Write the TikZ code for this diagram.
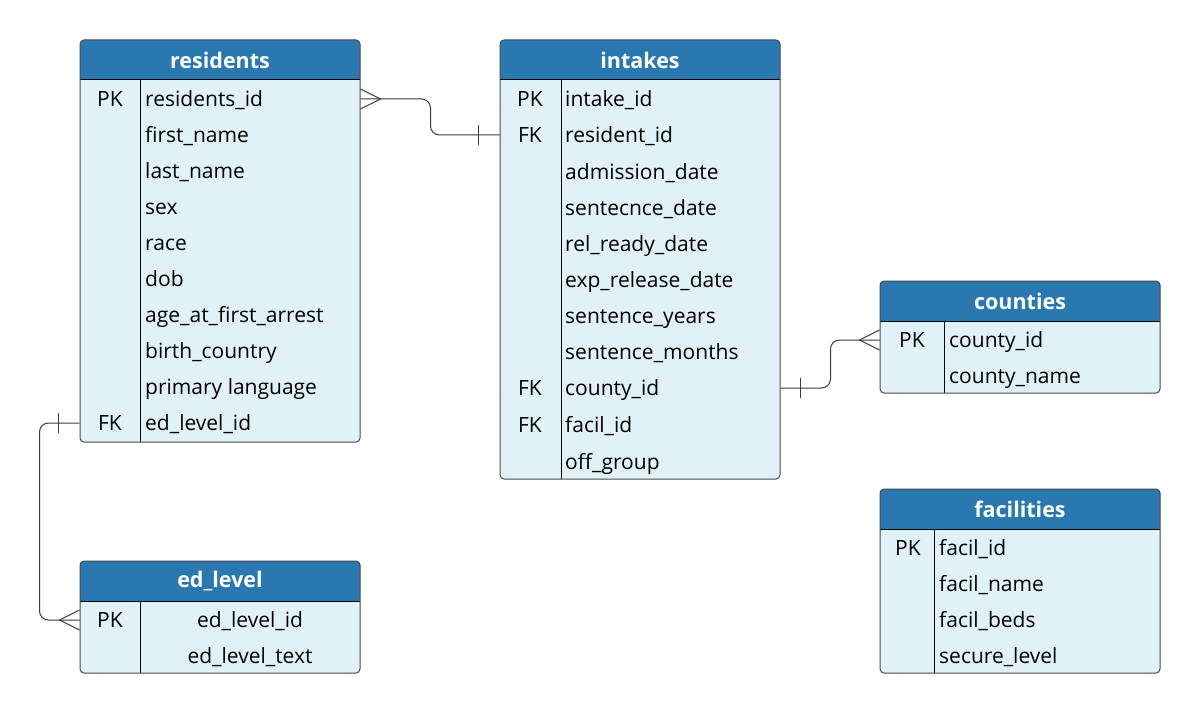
\documentclass[tikz,border=0pt]{standalone}
\usepackage{fontspec}
\setmainfont{Open Sans}
\usetikzlibrary{calc,fit}
\definecolor{headblue}{HTML}{2A78B0}
\definecolor{bodyfill}{HTML}{E0F2F7}
\definecolor{bordergray}{HTML}{4A4A4A}
\definecolor{conngray}{HTML}{3A3A3A}
\tikzset{
  tblframe/.style={draw=bordergray, line width=1pt, rounded corners=4pt, inner sep=0pt},
  sepline/.style={draw=black, line width=1pt},
  titletext/.style={text=white, font=\fontsize{21.5}{25}\selectfont\bfseries, inner sep=0pt},
  keytext/.style={text=black, font=\fontsize{21}{24}\selectfont, inner sep=0pt, text height=18pt, text depth=3pt},
  fieldtext/.style={keytext, anchor=west},
  conn/.style={draw=conngray, line width=1pt, rounded corners=9pt},
  crowmark/.style={draw=conngray, line width=1pt},
}
% name, x1, y1, x2, y2, divider x, title
\newcommand{\ertbl}[7]{%
  \fill[bodyfill, rounded corners=4pt] (#2,#3) rectangle (#4,#5);
  \fill[headblue, rounded corners=4pt] (#2,#3) rectangle (#4,{#3+40});
  \fill[headblue] (#2,{#3+30}) rectangle (#4,{#3+40});
  \draw[sepline] (#2,{#3+40}) -- (#4,{#3+40});
  \draw[sepline] (#6,{#3+40}) -- (#6,#5);
  \node[tblframe, fit={(#2,#3) (#4,#5)}] (#1) {};
  \node[titletext] (#1-title) at ({(#2+#4)/2},{#3+20}) {#7};
}
\begin{document}
\begin{tikzpicture}[x=1pt,y=-1pt]
\useasboundingbox[fill=white] (0,0) rectangle (1201,714);

% residents
\ertbl{residents}{80}{40}{360}{442}{140}{residents}
\node[keytext] (resk1) at (110,99) {PK};
\node[fieldtext] (resf1) at (145,99) {residents\_id};
\node[fieldtext] (resf2) at (145,135) {first\_name};
\node[fieldtext] (resf3) at (145,171) {last\_name};
\node[fieldtext] (resf4) at (145,207) {sex};
\node[fieldtext] (resf5) at (145,243) {race};
\node[fieldtext] (resf6) at (145,279) {dob};
\node[fieldtext] (resf7) at (145,315) {age\_at\_first\_arrest};
\node[fieldtext] (resf8) at (145,351) {birth\_country};
\node[fieldtext] (resf9) at (145,387) {primary language};
\node[keytext] (resk10) at (110,423) {FK};
\node[fieldtext] (resf10) at (145,423) {ed\_level\_id};

% intakes
\ertbl{intakes}{500}{40}{780}{479}{561}{intakes}
\node[keytext] (intk1) at (530,99) {PK};
\node[fieldtext] (intf1) at (565,99) {intake\_id};
\node[keytext] (intk2) at (530,135) {FK};
\node[fieldtext] (intf2) at (565,135) {resident\_id};
\node[fieldtext] (intf3) at (565,172) {admission\_date};
\node[fieldtext] (intf4) at (565,208) {sentecnce\_date};
\node[fieldtext] (intf5) at (565,244) {rel\_ready\_date};
\node[fieldtext] (intf6) at (565,280) {exp\_release\_date};
\node[fieldtext] (intf7) at (565,316) {sentence\_years};
\node[fieldtext] (intf8) at (565,352) {sentence\_months};
\node[keytext] (intk9) at (530,388) {FK};
\node[fieldtext] (intf9) at (565,388) {county\_id};
\node[keytext] (intk10) at (530,425) {FK};
\node[fieldtext] (intf10) at (565,425) {facil\_id};
\node[fieldtext] (intf11) at (565,462) {off\_group};

% counties
\ertbl{counties}{880}{281}{1160}{393}{944}{counties}
\node[keytext] (cntk1) at (912,340) {PK};
\node[fieldtext] (cntf1) at (949,340) {county\_id};
\node[fieldtext] (cntf2) at (949,376) {county\_name};

% facilities
\ertbl{facilities}{880}{489}{1160}{673}{934}{facilities}
\node[keytext] (fack1) at (908,548) {PK};
\node[fieldtext] (facf1) at (939,548) {facil\_id};
\node[fieldtext] (facf2) at (939,584) {facil\_name};
\node[fieldtext] (facf3) at (939,620) {facil\_beds};
\node[fieldtext] (facf4) at (939,656) {secure\_level};

% ed_level
\ertbl{edlevel}{80}{561}{360}{673}{140}{ed\_level}
\node[keytext] (edk1) at (110,620) {PK};
\node[keytext] (edf1) at (250,620) {ed\_level\_id};
\node[keytext] (edf2) at (250,656) {ed\_level\_text};

% connector residents -> intakes
\draw[conn] (residents.east |- resf1.center) -- ++(70,0) |- (intakes.west |- intf2.center);
\draw[crowmark] ($(residents.east |- resf1.center)+(0,-10)$) -- ++(20,10) -- ++(-20,10);
\draw[crowmark] ($(intakes.west |- intf2.center)+(-21,-10)$) -- ++(0,20);

% connector intakes -> counties
\draw[conn] (intakes.east |- intf9.center) -- ++(50,0) |- (counties.west |- cntf1.center);
\draw[crowmark] ($(intakes.east |- intf9.center)+(20,-10)$) -- ++(0,20);
\draw[crowmark] ($(counties.west |- cntf1.center)+(0,-10)$) -- ++(-20,10) -- ++(20,10);

% connector residents -> ed_level
\draw[conn] (residents.west |- resk10.center) -- ++(-40,0) |- (edlevel.west |- edk1.center);
\draw[crowmark] ($(residents.west |- resk10.center)+(-21,-10)$) -- ++(0,20);
\draw[crowmark] ($(edlevel.west |- edk1.center)+(0,-10)$) -- ++(-20,10) -- ++(20,10);
\end{tikzpicture}
\end{document}
